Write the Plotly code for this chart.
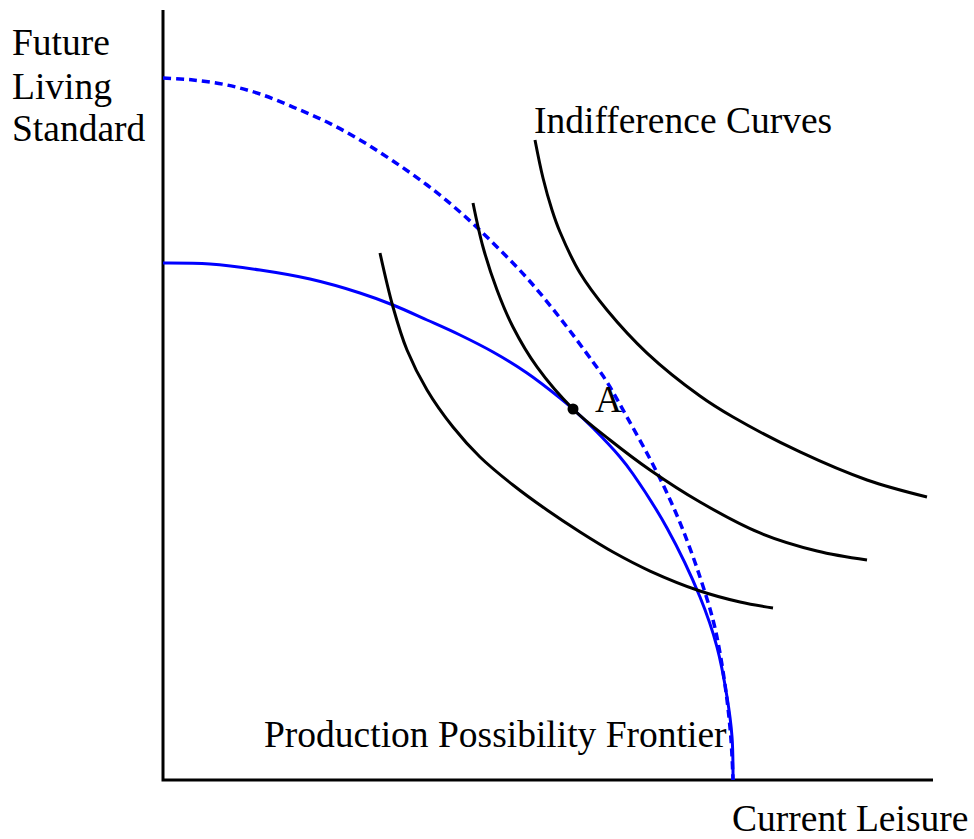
import plotly.graph_objects as go

# ---- Data (units: current leisure on x, future living standard on y) ----
ppf_x = [0.000, 0.610, 1.260, 1.909, 2.558, 2.987, 3.429, 3.857, 4.286, 4.727, 5.156,
         5.325, 5.584, 5.935, 6.104, 6.545, 6.974, 7.195, 7.325, 7.390, 7.403]
ppf_y = [6.714, 6.701, 6.623, 6.506, 6.325, 6.169, 5.974, 5.779, 5.558, 5.286, 4.961,
         4.818, 4.571, 4.195, 3.974, 3.273, 2.377, 1.727, 1.078, 0.558, 0.000]

ppf_new_x = [0.000, 0.390, 0.831, 1.260, 1.688, 2.130, 2.558, 2.987, 3.429, 3.857, 4.286, 4.727, 5.156,
             5.584, 5.766, 6.026, 6.325, 6.545, 6.753, 6.974, 7.143, 7.234, 7.325, 7.377, 7.403]
ppf_new_y = [9.117, 9.091, 9.026, 8.909, 8.740, 8.545, 8.312, 8.039, 7.727, 7.377, 6.974, 6.519, 6.000,
             5.429, 5.169, 4.714, 4.169, 3.727, 3.247, 2.636, 2.078, 1.649, 1.039, 0.519, 0.000]

ic1_x = [2.818, 2.987, 3.169, 3.429, 3.766, 4.117, 4.545, 4.987, 5.416, 5.844, 6.325, 6.974, 7.494, 7.922]
ic1_y = [6.844, 6.143, 5.584, 5.065, 4.584, 4.195, 3.831, 3.506, 3.221, 2.961, 2.714, 2.455, 2.312, 2.234]

ic2_x = [4.026, 4.156, 4.338, 4.545, 4.857, 5.325, 5.805, 6.325, 6.974, 7.753, 8.494, 9.143]
ic2_y = [7.494, 6.922, 6.364, 5.883, 5.364, 4.818, 4.416, 4.026, 3.610, 3.208, 2.974, 2.857]

ic3_x = [4.831, 4.935, 5.052, 5.156, 5.416, 5.766, 6.286, 6.974, 7.403, 8.273, 9.143, 9.922]
ic3_y = [8.312, 7.818, 7.403, 7.117, 6.584, 6.104, 5.545, 4.987, 4.714, 4.260, 3.896, 3.675]

point_a_x = [5.325]
point_a_y = [4.818]

axis_x = [0, 0, 10]
axis_y = [10, 0, 0]

FONT = "Liberation Serif, Times New Roman, serif"
BLUE = "#0000FF"

fig = go.Figure()

fig.add_trace(go.Scatter(x=axis_x, y=axis_y, mode="lines",
                         line=dict(color="black", width=3), hoverinfo="skip"))
fig.add_trace(go.Scatter(x=ppf_new_x, y=ppf_new_y, mode="lines",
                         line=dict(color=BLUE, width=3.5, dash="8px,5px", shape="spline", smoothing=1.0)))
fig.add_trace(go.Scatter(x=ppf_x, y=ppf_y, mode="lines",
                         line=dict(color=BLUE, width=3, shape="spline", smoothing=1.0)))
for xs, ys in [(ic1_x, ic1_y), (ic2_x, ic2_y), (ic3_x, ic3_y)]:
    fig.add_trace(go.Scatter(x=xs, y=ys, mode="lines",
                             line=dict(color="black", width=3, shape="spline", smoothing=1.0)))
fig.add_trace(go.Scatter(x=point_a_x, y=point_a_y, mode="markers",
                         marker=dict(color="black", size=11)))

def label(text, x, y):
    fig.add_annotation(x=x, y=y, xref="x", yref="y", text=text, showarrow=False,
                       xanchor="left", yanchor="middle", align="left",
                       font=dict(family=FONT, size=37.5, color="black"))

label("Future", -1.987, 9.578)
label("Living", -1.987, 9.013)
label("Standard", -1.987, 8.461)
label("Indifference Curves", 4.792, 8.565)
label("A", 5.584, 4.942)
label("Production Possibility Frontier", 1.286, 0.591)
label("Current Leisure", 7.364, -0.500)

fig.update_layout(
    width=974, height=839,
    margin=dict(l=0, r=0, t=0, b=0),
    paper_bgcolor="white", plot_bgcolor="white",
    showlegend=False,
    xaxis=dict(range=[-163/77, 811/77], visible=False, fixedrange=True),
    yaxis=dict(range=[-59/77, 780/77], visible=False, fixedrange=True),
)

fig.write_html("out.html",
               config={"displayModeBar": False},
               post_script="document.body.style.margin='0px';document.body.style.overflow='hidden';")
